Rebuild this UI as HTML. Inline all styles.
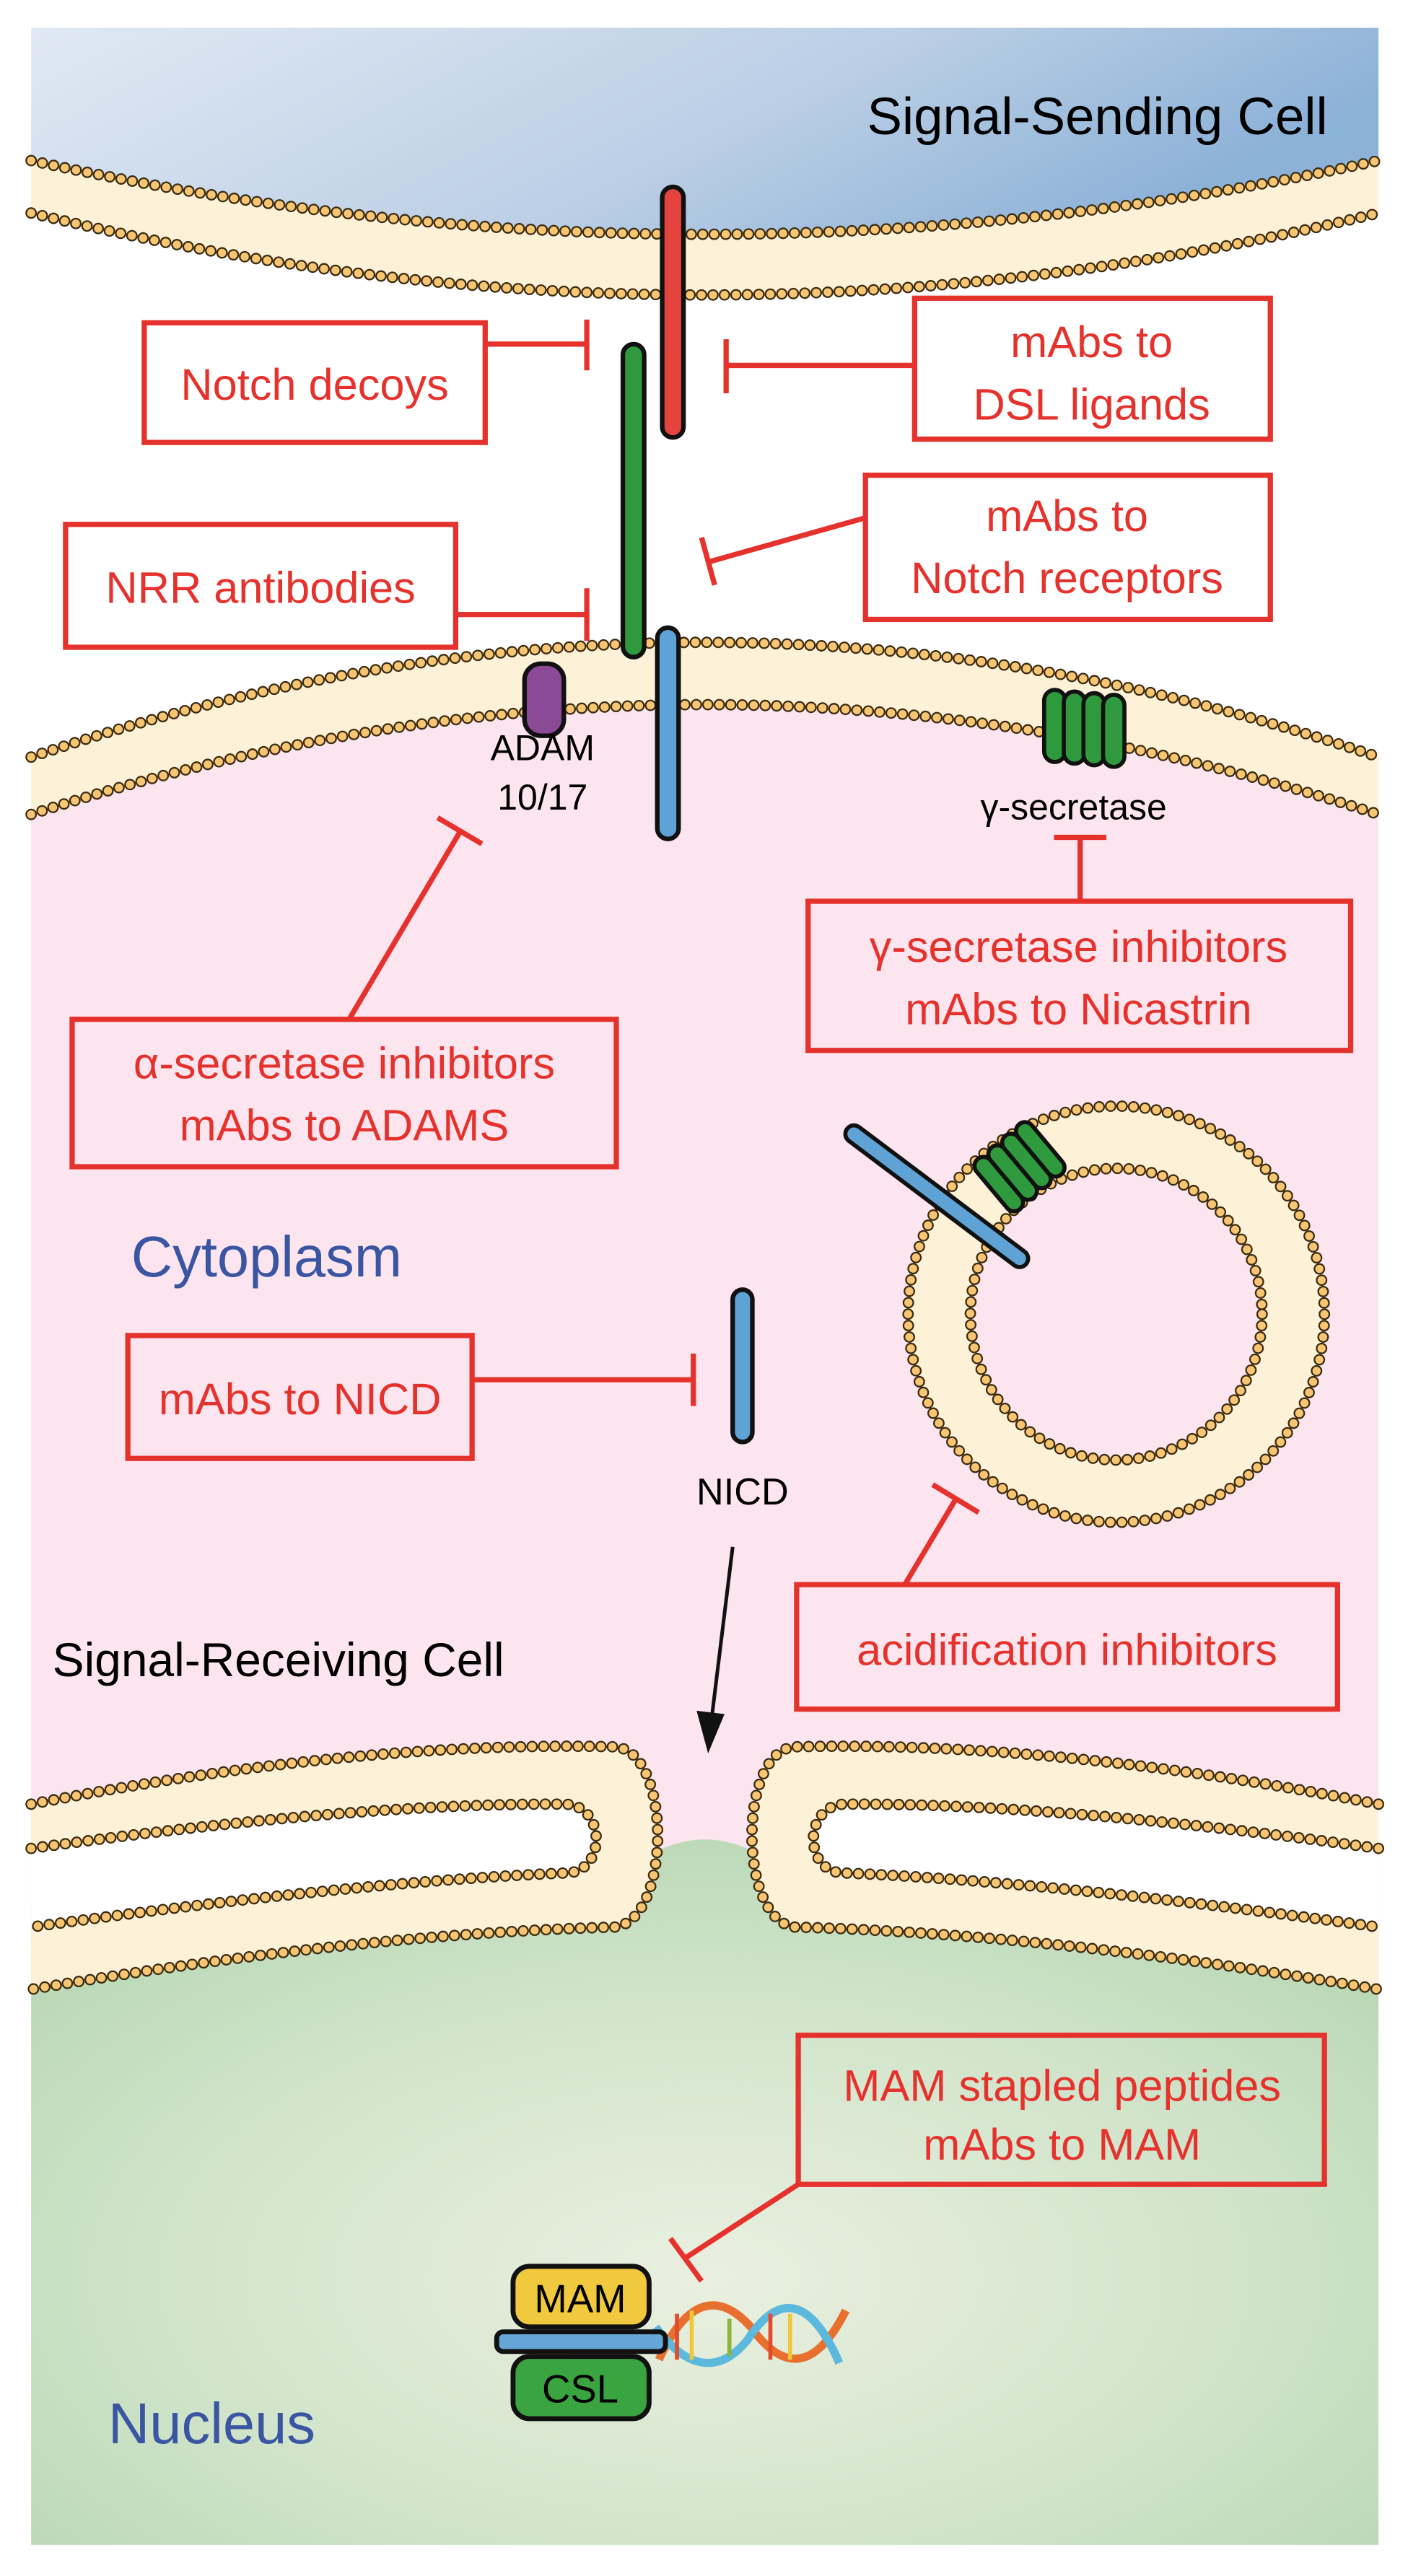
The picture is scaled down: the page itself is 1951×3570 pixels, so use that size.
<!DOCTYPE html>
<html><head><meta charset="utf-8"><style>
html,body{margin:0;padding:0;background:#fff}
svg{display:block}
text{font-family:"Liberation Sans",sans-serif}
</style></head><body>
<svg width="1951" height="3570" viewBox="0 0 859 1572" preserveAspectRatio="none" xmlns="http://www.w3.org/2000/svg">
<defs>
<linearGradient id="blue" x1="0" y1="0" x2="1" y2="0.3">
<stop offset="0" stop-color="#e0e9f4"/><stop offset="0.6" stop-color="#bccfe5"/><stop offset="1" stop-color="#8db2d8"/></linearGradient>
<radialGradient id="grn" cx="0.5" cy="0.62" r="0.7">
<stop offset="0" stop-color="#eaf0e0"/><stop offset="0.6" stop-color="#cfe3c9"/><stop offset="1" stop-color="#b5d6b0"/></radialGradient>
<style>
.dk{fill:none;stroke:#3a2a10;stroke-width:7;stroke-linecap:round;stroke-dasharray:0 7}
.or{fill:none;stroke:#f8c672;stroke-width:5;stroke-linecap:round;stroke-dasharray:0 7}
.tail{fill:#fdf1d8}
.rb{fill:none;stroke:#e5322d;stroke-width:3.2}
.rl{stroke:#e5322d;stroke-width:3.2;fill:none}
.rt{fill:#e5322d;font-size:27px;text-anchor:middle}
</style>
</defs>
<rect x="0" y="0" width="859" height="1572" fill="#fff"/>
<rect x="19" y="17" width="822" height="1536" fill="#fff"/>
<path d="M19,497 Q430,363 841,497 V1552 H19 Z" fill="#fce5ef"/>
<path d="M19,1160 Q200,1140 400,1130 Q430,1115 460,1130 Q660,1140 841,1160 V1553 H19 Z" fill="url(#grn)"/>
<path d="M19,17 H841 V98 Q430,188 19,98 Z" fill="url(#blue)"/>
<path class="tail" d="M19,98 Q430,188 841,98 L841,130 Q430,230 19,130 Z"/>
<path class="dk" d="M19,98 Q430,188 841,98"/><path class="or" d="M19,98 Q430,188 841,98"/>
<path class="dk" d="M19,130 Q430,230 841,130"/><path class="or" d="M19,130 Q430,230 841,130"/>
<path class="tail" d="M19,462 Q430,322 841,462 L841,497 Q430,363 19,497 Z"/>
<path class="dk" d="M19,462 Q430,322 841,462"/><path class="or" d="M19,462 Q430,322 841,462"/>
<path class="dk" d="M19,497 Q430,363 841,497"/><path class="or" d="M19,497 Q430,363 841,497"/>
<g id="lobe">
<path class="tail" d="M19,1101 Q220,1062 375,1066 C410,1068 410,1172 375,1176 Q220,1180 19,1214 Z"/>
<path fill="#fff" d="M19,1128 Q220,1100 345,1101 C370,1102 370,1143 345,1143 Q220,1148 19,1176 Z"/>
<path class="dk" d="M19,1101 Q220,1062 375,1066 C410,1068 410,1172 375,1176 Q220,1180 19,1214"/>
<path class="or" d="M19,1101 Q220,1062 375,1066 C410,1068 410,1172 375,1176 Q220,1180 19,1214"/>
<path class="dk" d="M19,1128 Q220,1100 345,1101 C370,1102 370,1143 345,1143 Q220,1148 19,1176"/>
<path class="or" d="M19,1128 Q220,1100 345,1101 C370,1102 370,1143 345,1143 Q220,1148 19,1176"/>
</g>
<use href="#lobe" transform="translate(860,0) scale(-1,1)"/>
<circle cx="681" cy="802" r="108" fill="none" stroke="#fdf1d8" stroke-width="38"/>
<circle cx="681" cy="802" r="127" class="dk"/><circle cx="681" cy="802" r="127" class="or"/>
<circle cx="681" cy="802" r="89" class="dk"/><circle cx="681" cy="802" r="89" class="or"/>
<line x1="521" y1="692" x2="622" y2="768" stroke="#111" stroke-width="13" stroke-linecap="round"/>
<line x1="521" y1="692" x2="622" y2="768" stroke="#5fa3d6" stroke-width="8" stroke-linecap="round"/>
<g transform="translate(622,712) rotate(-40)" fill="#2f9a3d" stroke="#111" stroke-width="2.5">
<rect x="-22" y="-20" width="11" height="40" rx="5.5"/><rect x="-11" y="-20" width="11" height="40" rx="5.5"/>
<rect x="0" y="-20" width="11" height="40" rx="5.5"/><rect x="11" y="-20" width="11" height="40" rx="5.5"/></g>
<rect x="404" y="114" width="13" height="153" rx="6.5" fill="#e5433e" stroke="#111" stroke-width="2.8"/>
<rect x="380" y="210" width="13" height="191" rx="6.5" fill="#2f9a3d" stroke="#111" stroke-width="2.8"/>
<rect x="401" y="383" width="13" height="129" rx="6.5" fill="#5fa3d6" stroke="#111" stroke-width="2.8"/>
<rect x="320" y="405" width="24" height="44" rx="10" fill="#8a4a95" stroke="#111" stroke-width="2.8"/>
<g fill="#2f9a3d" stroke="#111" stroke-width="2.5">
<rect x="637" y="421" width="13" height="44" rx="6.5"/><rect x="649" y="422" width="13" height="44" rx="6.5"/>
<rect x="661" y="423" width="13" height="44" rx="6.5"/><rect x="673" y="424" width="13" height="44" rx="6.5"/></g>
<text x="331" y="464" font-size="22" text-anchor="middle">ADAM</text>
<text x="331" y="494" font-size="22" text-anchor="middle">10/17</text>
<text x="655" y="500" font-size="22" text-anchor="middle">γ-secretase</text>
<rect x="447" y="787" width="12" height="93" rx="6" fill="#5fa3d6" stroke="#111" stroke-width="2.8"/>
<text x="453" y="918" font-size="23" text-anchor="middle">NICD</text>
<line x1="447" y1="944" x2="434" y2="1050" stroke="#111" stroke-width="2.2"/>
<path d="M425,1044 L432,1070 L442,1046 Z" fill="#111"/>
<text x="810" y="82" font-size="32" text-anchor="end">Signal-Sending Cell</text>
<text x="80" y="779" font-size="35" fill="#3a56a2">Cytoplasm</text>
<text x="32" y="1023" font-size="29">Signal-Receiving Cell</text>
<text x="66" y="1491" font-size="35" fill="#3a56a2">Nucleus</text>
<rect class="rb" x="88" y="197" width="208" height="73"/>
<text class="rt" x="192" y="244">Notch decoys</text>
<path class="rl" d="M296,210 H358 M358,195 V226"/>
<rect class="rb" x="558" y="182" width="217" height="86"/>
<text class="rt" x="666" y="218">mAbs to</text><text class="rt" x="666" y="256">DSL ligands</text>
<path class="rl" d="M558,223 H443 M443,207 V240"/>
<rect class="rb" x="528" y="290" width="247" height="88"/>
<text class="rt" x="651" y="324">mAbs to</text><text class="rt" x="651" y="362">Notch receptors</text>
<path class="rl" d="M528,316 L432,343 M428,328 L436,357"/>
<rect class="rb" x="40" y="320" width="238" height="75"/>
<text class="rt" x="159" y="368">NRR antibodies</text>
<path class="rl" d="M278,375 H358 M358,359 V391"/>
<rect class="rb" x="44" y="622" width="332" height="90"/>
<text class="rt" x="210" y="658">α-secretase inhibitors</text><text class="rt" x="210" y="696">mAbs to ADAMS</text>
<path class="rl" d="M213,622 L281,507 M267,499 L294,515"/>
<rect class="rb" x="493" y="550" width="331" height="91"/>
<text class="rt" x="658" y="587">γ-secretase inhibitors</text><text class="rt" x="658" y="625">mAbs to Nicastrin</text>
<path class="rl" d="M659,550 V511 M643,511 H675"/>
<rect class="rb" x="78" y="815" width="210" height="75"/>
<text class="rt" x="183" y="863">mAbs to NICD</text>
<path class="rl" d="M288,842 H423 M423,826 V858"/>
<rect class="rb" x="486" y="967" width="330" height="76"/>
<text class="rt" x="651" y="1016">acidification inhibitors</text>
<path class="rl" d="M552,967 L583,915 M569,906 L597,923"/>
<rect class="rb" x="487" y="1242" width="321" height="91"/>
<text class="rt" x="648" y="1282">MAM stapled peptides</text><text class="rt" x="648" y="1318">mAbs to MAM</text>
<path class="rl" d="M487,1333 L418,1378 M409,1366 L428,1392"/>
<g stroke-width="5" fill="none">
<path d="M402,1440 C420,1400 440,1400 458,1420 C476,1445 496,1450 516,1410" stroke="#e8702e"/>
<path d="M400,1420 C418,1445 438,1450 456,1428 C474,1400 494,1400 512,1442" stroke="#5cb8dc"/>
</g>
<g stroke-width="2.5"><line x1="413" y1="1412" x2="413" y2="1440" stroke="#e34b2c"/><line x1="422" y1="1410" x2="422" y2="1440" stroke="#f0c63a"/>
<line x1="445" y1="1415" x2="445" y2="1438" stroke="#8ab63c"/><line x1="470" y1="1412" x2="470" y2="1440" stroke="#e34b2c"/><line x1="482" y1="1412" x2="482" y2="1440" stroke="#f0c63a"/></g>
<rect x="313" y="1383" width="83" height="37" rx="10" fill="#f0c93f" stroke="#111" stroke-width="3"/>
<text x="354" y="1411" font-size="24" text-anchor="middle">MAM</text>
<rect x="303" y="1423" width="103" height="12" rx="4" fill="#65a6d6" stroke="#111" stroke-width="3"/>
<rect x="313" y="1438" width="83" height="38" rx="10" fill="#3aa540" stroke="#111" stroke-width="3"/>
<text x="354" y="1466" font-size="24" text-anchor="middle">CSL</text>
</svg>
</body></html>
